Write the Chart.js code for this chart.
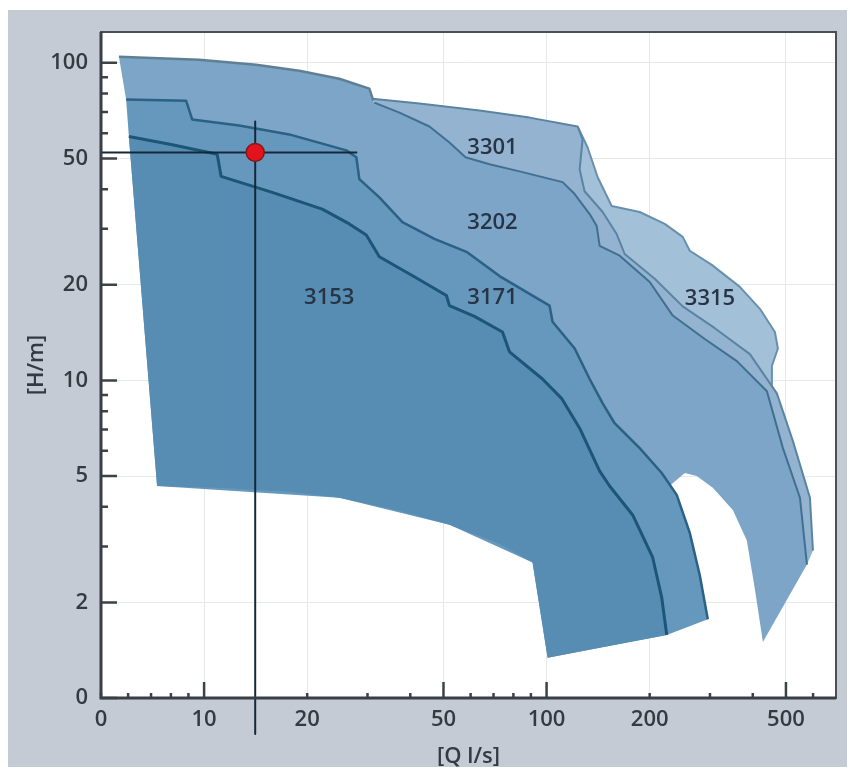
<!DOCTYPE html>
<html>
<head>
<meta charset="utf-8">
<title>Pump ranges</title>
<script src="https://cdn.jsdelivr.net/npm/chart.js@4.4.1/dist/chart.umd.min.js"></script>
<style>
  html, body { margin: 0; padding: 0; background: #fff; }
  #wrap { width: 850px; height: 782px; }
</style>
</head>
<body>
<div id="wrap"><canvas id="curveChart"></canvas></div>
<script>
// axis ticks (Q in l/s, H in m); the "0" labels sit at the axis minimum
const xTicks = [5, 6, 7, 8, 9, 10, 20, 30, 40, 50, 60, 70, 80, 90, 100, 200, 300, 400, 500, 600];
const xMajor = [10, 50, 100, 500];
const xLabels = {5: '0', 10: '10', 20: '20', 50: '50', 100: '100', 200: '200', 500: '500'};
const yTicks = [1, 2, 3, 4, 5, 6, 7, 8, 9, 10, 20, 30, 40, 50, 60, 70, 80, 90, 100];
const yLabels = {1: '0', 2: '2', 5: '5', 10: '10', 20: '20', 50: '50', 100: '100'};

// region outlines as [Q, H] pairs; "line" part is the stroked edge, "rest" closes the area
const line3153 = [[6.03,58.6],[8.01,55.3],[10.92,51.5],[11.21,43.9],[15.81,39.1],[22.13,34.6],[26.55,31.1],[29.76,28.7],[32.49,24.5],[41.11,21.2],[51.0,18.5],[52.05,17.2],[61.59,15.9],[74.35,14.2],[77.93,12.3],[97.3,10.1],[110.6,8.78],[124.9,7.07],[142.9,5.18],[152.8,4.65],[178.4,3.77],[204.1,2.77],[216.9,2.07],[224.3,1.58]];
const rest3153 = [[142.9,1.44],[100.7,1.34],[91.0,2.67],[72.88,3.06],[52.05,3.51],[37.18,3.89],[24.82,4.27],[17.72,4.46],[11.07,4.59],[7.29,4.65],[6.41,25.9]];

const line3171 = [[5.92,76.6],[8.86,76.0],[9.23,66.3],[12.66,63.5],[17.72,59.5],[26.02,53.0],[27.83,50.4],[28.40,43.0],[32.49,37.7],[37.94,31.5],[47.05,27.9],[58.36,25.4],[72.88,21.3],[102.0,17.2],[104.1,15.3],[120.8,12.6],[133.6,10.1],[145.8,8.47],[158.0,7.33],[187.0,6.12],[216.9,5.11],[239.9,4.36],[261.9,3.31],[280.2,2.43],[295.6,1.77]];
const rest3171 = [[224.3,1.58],[142.9,1.44],[100.7,1.34],[91.0,2.67],[52.05,3.51],[24.82,4.27],[7.29,4.65],[6.41,25.9],[6.03,58.6]];

const top3202 = [[5.64,104.4],[9.67,102.2],[14.19,98.6],[18.96,94.4],[24.82,89.1],[30.37,82.9],[31.2,76.0]];
const line3202 = [[31.41,74.9],[37.18,69.7],[45.5,63.0],[52.05,56.1],[57.97,50.4],[68.13,47.9],[83.39,45.5],[111.4,42.1],[120.8,38.6],[133.6,33.4],[140.1,30.6],[142.9,26.5],[163.5,24.7],[200.1,20.4],[233.6,16.0],[289.7,13.5],[359.4,11.5],[439.9,9.24],[489.9,6.12],[549.3,4.27],[575.8,2.63]];
const rest3202 = [[428.2,1.50],[405.8,2.20],[384.4,3.13],[349.9,3.91],[305.8,4.59],[274.5,5.0],[253.2,5.11],[221.3,4.52],[142.9,7.60],[72.88,19.4],[37.18,30.0],[18.96,53.4],[9.67,62.6],[5.92,76.6]];

const top3301 = [[30.99,77.1],[42.54,74.4],[63.70,70.7],[89.19,67.2],[123.2,63.0]];
const line3301 = [[127.4,57.4],[124.9,46.2],[129.1,39.4],[145.8,33.9],[160.2,28.9],[169.1,25.0],[206.9,20.9],[249.8,17.1],[309.9,14.6],[392.3,12.1],[470.4,9.10],[524.0,6.44],[587.5,4.27],[599.5,2.91]];
const rest3301 = [[575.8,2.63],[513.5,3.20],[448.8,6.12],[366.7,8.78],[214.0,15.6],[124.9,30.0],[72.88,43.0],[45.5,59.5],[33.60,71.2],[31.62,74.4]];

const line3315 = [[123.2,63.0],[131.8,54.1],[141.0,43.6],[154.9,35.4],[187.0,33.9],[221.3,31.1],[249.8,28.3],[261.9,25.6],[303.7,23.1],[366.7,19.7],[419.6,16.8],[464.2,14.2],[473.6,12.6],[454.9,11.1],[454.9,9.31]];
const rest3315 = [[419.6,9.79],[280.2,14.6],[174.9,21.6],[138.2,31.7],[118.3,46.2],[120.8,59.5]];

// model names and where they are written
const labelNames = ['3301', '3202', '3153', '3171', '3315'];
const labelQ = [69.5, 69.5, 23.2, 69.5, 300];
const labelH = [54.1, 31.3, 18.2, 18.2, 18.1];

// duty point and its cross lines
const dutyPoint = [[14.1, 52.2]];
const hLine = [[5, 52.2], [28.0, 52.2]];
const vLine = [[14.1, 65.3], [14.1, 0.77]];

const pts = arr => arr.map(p => ({x: p[0], y: p[1]}));

function area(poly, color) {
  return {data: pts(poly), showLine: true, fill: 'shape', backgroundColor: color,
    borderColor: 'transparent', borderWidth: 0, pointRadius: 0, tension: 0};
}
function edge(line, color, width) {
  return {data: pts(line), showLine: true, fill: false, borderColor: color,
    borderWidth: width, pointRadius: 0, tension: 0, borderJoinStyle: 'round'};
}

const font = {family: 'Open Sans', size: 22, weight: '600'};
const textColor = '#343a42';

const chartFrame = {
  id: 'chartFrame',
  beforeDraw(chart) {
    const {ctx, chartArea: a} = chart;
    ctx.save();
    ctx.fillStyle = '#ffffff';
    ctx.fillRect(0, 0, chart.width, chart.height);
    ctx.fillStyle = '#c4cbd4';
    ctx.fillRect(8, 10, chart.width - 11, chart.height - 25);
    ctx.fillStyle = '#ffffff';
    ctx.fillRect(a.left, a.top, a.right - a.left, a.bottom - a.top);
    ctx.restore();
  },
  afterDatasetsDraw(chart) {
    const {ctx, scales: {x, y}} = chart;
    ctx.save();
    ctx.font = '600 22px "Open Sans"';
    ctx.fillStyle = '#263444';
    ctx.textAlign = 'center';
    ctx.textBaseline = 'middle';
    labelNames.forEach((name, i) => {
      ctx.fillText(name, x.getPixelForValue(labelQ[i]), y.getPixelForValue(labelH[i]));
    });
    ctx.restore();
  },
  afterDraw(chart) {
    const {ctx, chartArea: a, scales: {x, y}} = chart;
    ctx.save();
    ctx.strokeStyle = '#3d4248';
    ctx.lineWidth = 2.5;
    ctx.beginPath();
    xTicks.forEach(v => {
      const px = x.getPixelForValue(v);
      const len = xMajor.includes(v) ? 16 : 5;
      ctx.moveTo(px, a.bottom);
      ctx.lineTo(px, a.bottom - len);
    });
    yTicks.forEach(v => {
      const py = y.getPixelForValue(v);
      const len = yLabels[v] ? 16 : 7;
      ctx.moveTo(a.left, py);
      ctx.lineTo(a.left + len, py);
    });
    ctx.stroke();
    ctx.lineWidth = 2;
    ctx.strokeStyle = '#4a4f56';
    ctx.strokeRect(a.left, a.top, a.right - a.left, a.bottom - a.top);
    ctx.lineWidth = 3;
    ctx.strokeStyle = '#3a3f45';
    ctx.beginPath();
    ctx.moveTo(a.left, a.top);
    ctx.lineTo(a.left, a.bottom);
    ctx.lineTo(a.right, a.bottom);
    ctx.stroke();
    ctx.restore();
  }
};

new Chart(document.getElementById('curveChart'), {
  type: 'scatter',
  data: {
    datasets: [
      {data: pts(dutyPoint), pointRadius: 9, pointHoverRadius: 9, backgroundColor: '#e3121c',
        borderColor: '#7d1a1c', borderWidth: 1.5, clip: false},
      edge(hLine, '#15283a', 2),
      Object.assign(edge(vLine, '#15283a', 2), {clip: false}),
      edge(line3153, '#1b5677', 3),
      area(line3153.concat(rest3153), '#578cb3'),
      edge(line3171, '#2a6184', 2.5),
      area(line3171.concat(rest3171), '#6698be'),
      edge(line3202, '#3f7091', 2),
      edge(top3202, '#5f7f95', 2.5),
      area(top3202.concat(line3202, rest3202), '#7ca5c8'),
      edge(top3301.concat(line3301), '#5a84a2', 2),
      area(top3301.concat(line3301, rest3301), '#93b3d0'),
      edge(line3315, '#6890ad', 2),
      area(line3315.concat(rest3315), '#a3c0d9')
    ]
  },
  options: {
    responsive: true,
    maintainAspectRatio: false,
    animation: false,
    events: [],
    layout: {padding: {left: 0, right: 14, top: 32, bottom: 0}},
    plugins: {legend: {display: false}, tooltip: {enabled: false}},
    scales: {
      x: {
        type: 'logarithmic',
        min: 5,
        max: 700,
        afterBuildTicks: s => { s.ticks = xTicks.map(v => ({value: v})); },
        afterFit: s => { s.height = 84; },
        ticks: {
          autoSkip: false, maxRotation: 0, padding: 9, font: font, color: textColor,
          callback: v => xLabels[v] || ''
        },
        grid: {
          drawTicks: false,
          color: c => (c.tick && xLabels[c.tick.value]) ? '#e6e8eb' : 'transparent'
        },
        border: {display: false},
        title: {display: true, text: '[Q l/s]', font: font, color: textColor, padding: {top: 0, bottom: 12}}
      },
      y: {
        type: 'logarithmic',
        min: 1,
        max: 125,
        afterBuildTicks: s => { s.ticks = yTicks.map(v => ({value: v})); },
        afterFit: s => { s.width = 101; },
        ticks: {
          autoSkip: false, padding: 13, font: font, color: textColor,
          callback: v => yLabels[v] || ''
        },
        grid: {
          drawTicks: false,
          color: c => (c.tick && yLabels[c.tick.value]) ? '#e6e8eb' : 'transparent'
        },
        border: {display: false},
        title: {display: true, text: '[H/m]', font: font, color: textColor, padding: {top: 24, bottom: 0}}
      }
    }
  },
  plugins: [chartFrame]
});
</script>
</body>
</html>
